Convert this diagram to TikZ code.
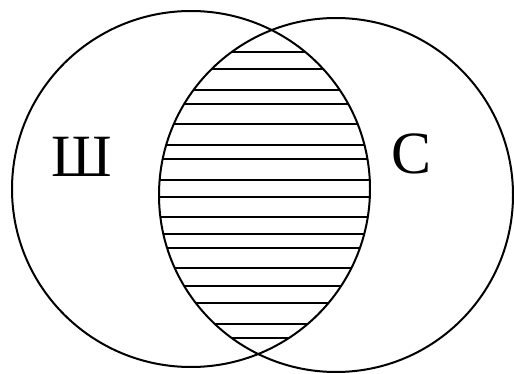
\documentclass[tikz,border=0pt]{standalone}
\usepackage{fontspec}
\setmainfont{Liberation Serif}
\usepackage{tikz}

\begin{document}
\begin{tikzpicture}[x=1pt, y=-1pt, line width=2pt,
  lbl/.style={font=\fontsize{60}{60}\selectfont, inner sep=0pt}]
\useasboundingbox (0,0) rectangle (514,374);
\draw (191,189) ellipse [x radius=179, y radius=178];
\draw (336,195) ellipse [x radius=177, y radius=177];
% hatching of the common part
\begin{scope}
  \clip (191,189) ellipse [x radius=179, y radius=178];
  \clip (336,195) ellipse [x radius=177, y radius=177];
  \foreach \y in {52,69,90,104,124,145,159,180,197,217,234,248,268,286,303,324,338}
    \draw (140,\y) -- (390,\y);
\end{scope}
\node[lbl] (sh) at (82,157) {Ш};
\node[lbl] (es) at (412,154) {С};
\end{tikzpicture}
\end{document}
